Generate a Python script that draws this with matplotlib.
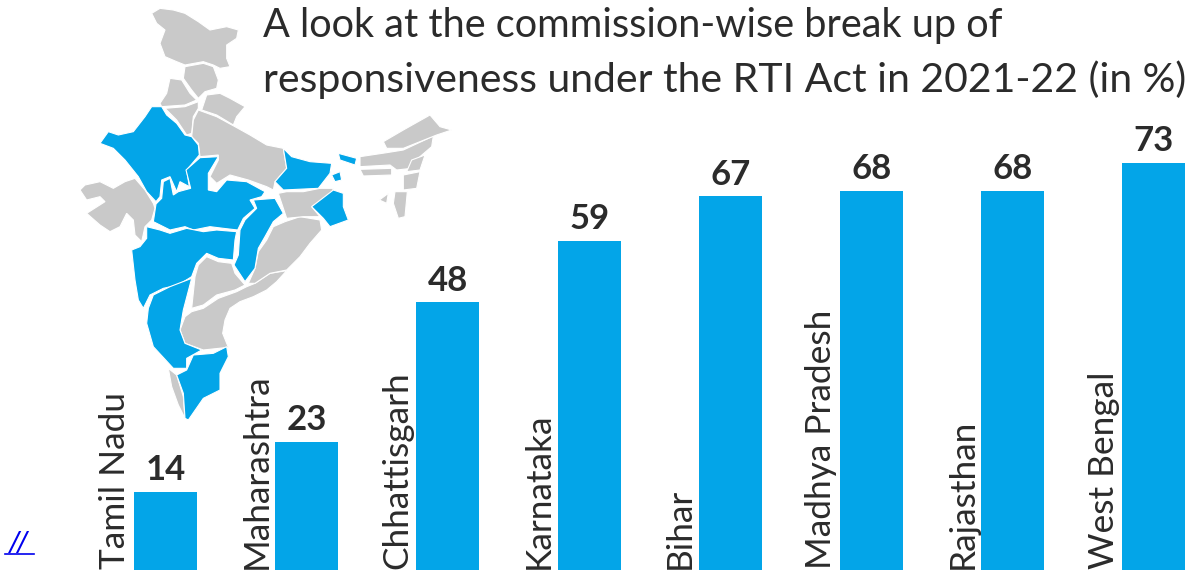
import matplotlib
matplotlib.use("Agg")
import matplotlib.pyplot as plt
from matplotlib.patches import Polygon

plt.rcParams["font.family"] = ["Lato", "DejaVu Sans"]

states = ["Tamil Nadu", "Maharashtra", "Chhattisgarh", "Karnataka", "Bihar",
          "Madhya Pradesh", "Rajasthan", "West Bengal"]
responsiveness = [14, 23, 48, 59, 67, 68, 68, 73]

title_lines = ["A look at the commission-wise break up of",
               "responsiveness under the RTI Act in 2021-22 (in %)"]

BLUE = "#03a5e8"
GREY = "#c9c9c9"
TEXT = "#2b2b2b"

# rough state outlines for the map
grey_shapes = [
    [(245,40),(270,25),(310,30),(345,40),(385,65),(420,90),(470,80),(505,90),(500,115),(470,135),(470,175),(480,200),(450,205),(430,195),(400,185),(345,195),(320,185),(285,170),(270,130),(285,90),(260,70)],
    [(345,200),(400,190),(430,200),(445,240),(440,265),(405,275),(385,295),(365,270),(340,235)],
    [(300,235),(335,240),(360,280),(380,300),(345,315),(275,320),(270,310),(290,280)],
    [(410,285),(450,280),(480,295),(525,320),(500,350),(490,375),(440,345),(395,330)],
    [(285,325),(345,320),(385,305),(385,325),(370,350),(365,400),(350,405),(320,360)],
    [(385,330),(440,350),(495,380),(540,405),(590,435),(640,445),(650,505),(615,545),(610,570),(590,560),(535,540),(480,525),(440,550),(420,530),(445,480),(445,465),(390,470),(385,430),(365,410),(370,360)],
    [(30,570),(45,555),(90,545),(130,565),(165,545),(195,535),(225,570),(250,610),(255,625),(245,660),(225,680),(215,725),(195,705),(190,660),(170,640),(150,680),(120,695),(90,675),(50,640),(105,605),(90,590),(50,600)],
    [(410,770),(445,785),(485,790),(495,820),(525,855),(495,870),(440,885),(400,915),(365,925),(375,830),(385,795)],
    [(650,812),(600,820),(555,850),(530,860),(500,875),(445,895),(400,925),(365,935),(345,950),(330,990),(345,1030),(400,1050),(475,1042),(458,1000),(465,960),(480,925),(510,905),(550,890),(590,870),(620,845)],
    [(645,665),(690,650),(750,660),(755,690),(720,730),(690,770),(650,810),(600,820),(555,850),(535,850),(555,805),(565,755),(590,720),(610,680)],
    [(625,580),(650,575),(700,575),(750,565),(790,565),(785,580),(725,620),(750,650),(700,650),(650,655),(640,625)],
    [(295,1105),(320,1125),(340,1190),(345,1255),(325,1215),(305,1160)],
    [(870,470),(950,458),(1000,450),(1090,408),(1085,440),(1050,470),(1025,505),(980,510),(960,495),(870,500)],
    [(940,425),(1000,390),(1080,345),(1110,380),(1145,390),(1100,405),(1000,445),(950,445)],
    [(870,508),(965,505),(965,525),(880,528)],
    [(1065,465),(1050,510),(1010,515),(1025,480)],
    [(1000,525),(1050,515),(1040,565),(1000,570)],
    [(975,575),(1012,575),(1005,650),(985,655),(970,610)],
    [(928,600),(955,580),(950,610)],
]
blue_shapes = [
    [(245,320),(275,320),(290,345),(320,370),(345,405),(365,410),(385,435),(388,465),(350,510),(358,560),(330,545),(320,575),(300,530),(275,540),(270,590),(258,605),(230,575),(205,530),(165,480),(130,445),(90,430),(115,395),(145,405),(190,395),(225,350)],
    [(258,612),(275,595),(280,545),(300,535),(310,585),(325,575),(362,565),(348,510),(390,473),(445,470),(415,520),(415,570),(440,575),(470,540),(530,545),(585,575),(575,590),(540,600),(555,625),(520,655),(503,690),(460,685),(420,680),(370,690),(345,680),(300,690),(250,665)],
    [(230,680),(270,690),(300,700),(350,685),(400,695),(440,690),(500,695),(495,720),(490,780),(445,775),(410,760),(380,790),(365,830),(325,855),(280,865),(240,885),(220,925),(205,900),(195,840),(185,750),(210,740),(230,715)],
    [(550,600),(615,595),(640,640),(610,665),(585,710),(565,745),(555,805),(525,845),(492,795),(505,765),(510,690),(525,660),(560,625)],
    [(640,445),(665,470),(720,485),(785,490),(780,520),(745,565),(640,570),(615,545),(650,505)],
    [(790,570),(820,580),(820,620),(835,660),(780,680),(760,655),(725,620)],
    [(785,525),(810,515),(815,540),(795,545)],
    [(805,460),(860,475),(855,495),(810,480)],
    [(235,925),(250,885),(300,860),(365,835),(340,930),(330,990),(345,1030),(395,1050),(350,1075),(350,1105),(310,1105),(250,1040),(230,970)],
    [(470,1040),(475,1070),(450,1120),(450,1170),(400,1195),(355,1260),(345,1255),(340,1180),(320,1125),(350,1110),(370,1065),(430,1060)],
]

W, H = 1186, 576
fig = plt.figure(figsize=(W / 100, H / 100), dpi=100)

# map sits behind the bars
map_ax = fig.add_axes([70 / W, 1 - 430 / H, 390 / W, 430 / H])
map_ax.set_xlim(0, 1170)
map_ax.set_ylim(1290, 0)
map_ax.axis("off")
for shape in grey_shapes:
    map_ax.add_patch(Polygon(shape, closed=True, fc=GREY, ec="white", lw=0.8))
for shape in blue_shapes:
    map_ax.add_patch(Polygon(shape, closed=True, fc=BLUE, ec="white", lw=0.8))

# 141.2 px between bars, baseline at y=570, 5.58 px per percent
ax = fig.add_axes([0, 6 / H, 1, 570 / H])
ax.patch.set_alpha(0)
ax.set_xlim(-165.5 / 141.2, (W - 165.5) / 141.2)
ax.set_ylim(0, 570 / 5.58)
ax.axis("off")

bar_width = 63 / 141.2
ax.bar(range(len(states)), responsiveness, width=bar_width, color=BLUE)

for i, (state, value) in enumerate(zip(states, responsiveness)):
    ax.annotate(str(value), (i, value), xytext=(0, 4), textcoords="offset points",
                ha="center", va="bottom", fontsize=25, fontweight="bold", color=TEXT)
    ax.annotate(state, (i - bar_width / 2, 0), xytext=(-2, 1), textcoords="offset points",
                ha="right", va="bottom", rotation=90, fontsize=25.4, color=TEXT)

fig.text(263 / W, 1 - 37 / H, title_lines[0], fontsize=28.6, color=TEXT, ha="left", va="baseline")
fig.text(263 / W, 1 - 92 / H, title_lines[1], fontsize=29.5, color=TEXT, ha="left", va="baseline")

# stray link left on the page
fig.text(19 / W, 1 - 551 / H, "//", fontsize=19, style="italic", family="DejaVu Sans", color="#0000ee", ha="center", va="baseline")
fig.add_artist(plt.Line2D([5 / W, 34 / W], [1 - 553.5 / H, 1 - 553.5 / H], color="#0000ee", lw=1.2))

fig.savefig("out.png", dpi=100)
